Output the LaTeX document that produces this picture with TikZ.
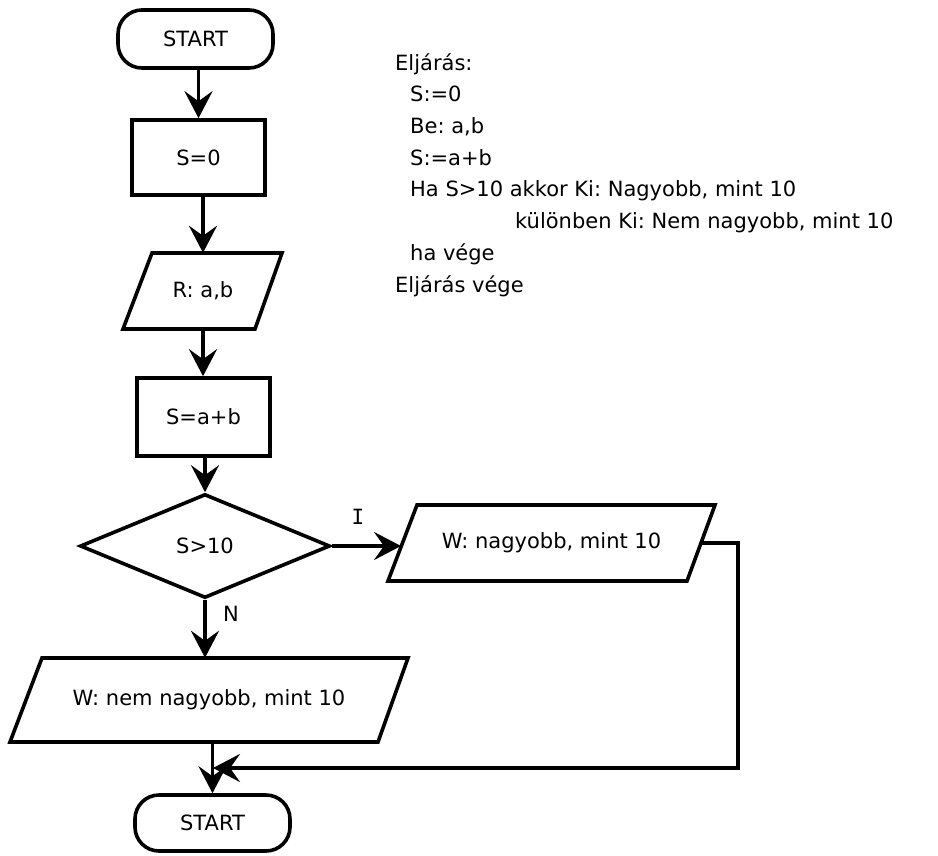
\documentclass[tikz,border=0pt]{standalone}
\usepackage{fontspec}
\setmainfont{DejaVu Sans}
\newfontfamily\lblfont{DejaVu Sans Mono}
\usetikzlibrary{arrows.meta,shapes.geometric}
\begin{document}
\frenchspacing
\begin{tikzpicture}[x=1pt,y=-1pt,
  font=\fontsize{21}{25}\selectfont,
  shapeline/.style={draw, line width=3.6pt, line join=miter},
  term/.style={shapeline, rectangle, rounded corners=24pt, inner sep=0pt},
  procbox/.style={shapeline, rectangle, inner sep=0pt},
  decision/.style={shapeline, diamond, inner sep=0pt},
  iolabel/.style={inner sep=0pt},
  flow/.style={line width=3.6pt, line join=miter, -{Stealth[length=27pt,width=28pt,inset=10pt]}},
  code/.style={anchor=base west, inner sep=0pt}
]
\useasboundingbox (0,0) rectangle (938,855);

% terminators and boxes
\node[term, minimum width=155pt, minimum height=58pt] (start) at (195.5,39) {START};
\node[procbox, minimum width=133pt, minimum height=75pt] (s0) at (198.5,157.5) {S=0};
\draw[shapeline] (152,253) -- (282,253) -- (255,329) -- (123,329) -- cycle;
\node[iolabel, minimum width=120pt, minimum height=76pt] (rab) at (203,291) {R: a,b};
\node[procbox, minimum width=133pt, minimum height=78pt] (sab) at (203.5,417) {S=a+b};
\node[decision, minimum width=250pt, minimum height=104pt] (dia) at (205,546) {S>10};
\draw[shapeline] (417,505) -- (715,505) -- (687,581) -- (388,581) -- cycle;
\node[iolabel, minimum width=260pt, minimum height=76pt] (wn) at (551.5,543) {W: nagyobb, mint 10};
\draw[shapeline] (42,658) -- (408,658) -- (378,742) -- (10,742) -- cycle;
\node[iolabel, minimum width=330pt, minimum height=84pt] (wnem) at (209,700) {W: nem nagyobb, mint 10};
\node[term, minimum width=155pt, minimum height=56pt] (end) at (212.5,823) {START};

% helper coordinates
\coordinate (wnin) at (401,546);
\coordinate (wnout) at (701,543);
\coordinate (rc1) at (738,543);
\coordinate (rc2) at (738,768);
\coordinate (merge) at (213,768);

% connectors
\draw[flow] (s0.north |- start.south) -- (s0.north);
\draw[flow] (rab.north |- s0.south) -- (rab.north);
\draw[flow] (rab.south) -- (rab.south |- sab.north);
\draw[flow] (dia.north |- sab.south) -- (dia.north);
\draw[flow] (dia.east) -- (wnin);
\draw[flow] (dia.south) -- (dia.south |- wnem.north);
\draw[flow] (end.north |- wnem.south) -- (end.north);
\draw[flow] (wnout) -- (rc1) -- (rc2) -- (merge);

% branch labels
\node[font=\lblfont\fontsize{21}{25}\selectfont] (lI) at (358,517) {I};
\node (lN) at (231,614) {N};

% pseudocode
\node[code] (c1) at (395,70) {Eljárás:};
\node[code] (c2) at (410,101) {S:=0};
\node[code] (c3) at (410,133) {Be: a,b};
\node[code] (c4) at (410,165) {S:=a+b};
\node[code] (c5) at (410,196) {Ha S>10 akkor Ki: Nagyobb, mint 10};
\node[code] (c6) at (515,228) {különben Ki: Nem nagyobb, mint 10};
\node[code] (c7) at (410,260) {ha vége};
\node[code] (c8) at (395,292) {Eljárás vége};
\end{tikzpicture}
\end{document}
